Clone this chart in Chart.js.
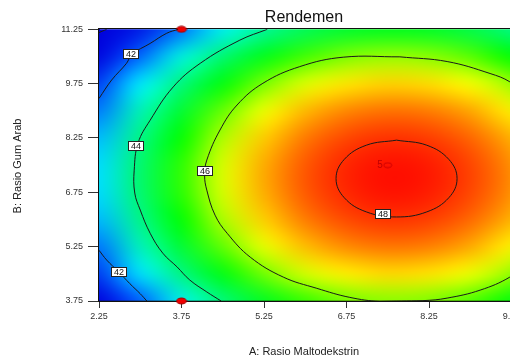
<!DOCTYPE html>
<html>
<head>
<meta charset="utf-8">
<title>Rendemen</title>
<script src="https://cdn.jsdelivr.net/npm/chart.js@4.4.0/dist/chart.umd.min.js"></script>
<style>
  html, body { margin: 0; padding: 0; background: #fff; overflow: hidden; }
  #wrap { width: 510px; height: 359px; overflow: hidden; }
  canvas { display: block; }
</style>
</head>
<body>
<div id="wrap"><canvas id="contourChart" width="700" height="359"></canvas></div>
<script>
// Factor levels of the response grid
const gridA = [2.25, 3.0, 3.75, 4.5, 5.25, 6.0, 6.75, 7.5, 8.25, 9.0, 9.75, 10.5];
const gridB = [3.75, 4.5, 5.25, 6.0, 6.75, 7.5, 8.25, 9.0, 9.75, 10.5, 11.25];

// Rendemen, one row per B level (bottom row first)
const rendemen = [
  [40.63, 42.02, 43.19, 44.16, 44.92, 45.48, 45.82, 45.96, 45.89, 45.61, 45.12, 44.43],
  [41.52, 42.91, 44.08, 45.05, 45.81, 46.37, 46.71, 46.85, 46.78, 46.50, 46.01, 45.32],
  [42.19, 43.58, 44.75, 45.72, 46.48, 47.04, 47.38, 47.52, 47.45, 47.17, 46.68, 45.99],
  [42.63, 44.02, 45.19, 46.16, 46.92, 47.48, 47.82, 47.96, 47.89, 47.61, 47.12, 46.43],
  [42.86, 44.25, 45.42, 46.39, 47.15, 47.71, 48.05, 48.19, 48.12, 47.84, 47.35, 46.66],
  [42.87, 44.26, 45.43, 46.40, 47.16, 47.72, 48.06, 48.20, 48.13, 47.85, 47.36, 46.67],
  [42.65, 44.04, 45.21, 46.18, 46.94, 47.50, 47.84, 47.98, 47.91, 47.63, 47.14, 46.45],
  [42.22, 43.61, 44.78, 45.75, 46.51, 47.07, 47.41, 47.55, 47.48, 47.20, 46.71, 46.02],
  [41.57, 42.96, 44.13, 45.10, 45.86, 46.42, 46.76, 46.90, 46.83, 46.55, 46.06, 45.37],
  [40.70, 42.09, 43.26, 44.23, 44.99, 45.55, 45.89, 46.03, 45.96, 45.68, 45.19, 44.50],
  [39.61, 41.00, 42.17, 43.14, 43.90, 44.46, 44.80, 44.94, 44.87, 44.59, 44.10, 43.41]
];

const xTicks = [2.25, 3.75, 5.25, 6.75, 8.25, 9.75, 11.25, 12.75];
const yTicks = [3.75, 5.25, 6.75, 8.25, 9.75, 11.25];

// Contour lines
const c40A = [2.25, 2.39];
const c40B = [11.16, 11.25];
const c42TopA = [2.25, 2.48, 2.75, 2.85, 3.18, 3.48, 3.69];
const c42TopB = [9.34, 9.85, 10.31, 10.56, 10.86, 11.14, 11.25];
const c42BotA = [2.25, 2.39, 2.61, 2.81, 3.00, 3.12];
const c42BotB = [5.15, 4.88, 4.55, 4.23, 3.95, 3.75];
const c44A = [5.31, 4.81, 4.09, 3.60, 3.18, 2.96, 2.89, 2.90, 3.00, 3.18, 3.41, 3.67, 3.90, 4.21, 4.47];
const c44B = [11.25, 10.95, 10.31, 9.66, 8.74, 8.11, 7.36, 6.73, 6.26, 5.62, 5.07, 4.69, 4.33, 4.00, 3.75];
const c46A = [7.72, 6.69, 5.90, 5.23, 4.76, 4.45, 4.21, 4.17, 4.21, 4.36, 4.58, 5.00, 5.60, 6.21, 6.81, 7.36, 8.14, 8.58, 9.18, 9.72, 10.40, 10.90, 11.05, 10.90, 10.40, 9.72, 9.36, 8.58, 7.72];
const c46B = [10.49, 10.48, 10.22, 9.76, 9.16, 8.47, 7.64, 7.22, 6.81, 6.12, 5.62, 4.96, 4.41, 4.10, 3.85, 3.74, 3.76, 3.83, 4.05, 4.41, 5.13, 6.11, 7.10, 8.09, 9.07, 9.80, 10.03, 10.36, 10.49];
const c48A = [7.66, 7.11, 6.71, 6.56, 6.71, 7.11, 7.66, 8.21, 8.61, 8.76, 8.61, 8.21, 7.66];
const c48B = [8.19, 8.05, 7.66, 7.13, 6.60, 6.21, 6.07, 6.21, 6.60, 7.13, 7.66, 8.05, 8.19];

// Contour level labels
const labelLevels = [42, 44, 46, 48, 42];
const labelA = [2.83, 2.92, 4.17, 7.41, 2.62];
const labelB = [10.56, 8.04, 7.35, 6.15, 4.55];

// Design points
const designA = [3.75, 3.75];
const designB = [11.25, 3.75];
const centerA = [7.5];
const centerB = [7.5];
const centerReps = [5];

const FONT = '"Liberation Sans", Arial, sans-serif';

// value -> colour ramp (blue, cyan, green, yellow, red)
const colorStops = [
  [40.6, 0, 0, 220],
  [42.0, 0, 90, 255],
  [43.0, 0, 240, 255],
  [45.2, 0, 255, 0],
  [46.6, 255, 255, 0],
  [48.3, 255, 0, 0]
];

function colorFor(v) {
  if (v <= colorStops[0][0]) return colorStops[0].slice(1);
  for (let i = 1; i < colorStops.length; i++) {
    const [v1, r1, g1, b1] = colorStops[i];
    if (v <= v1) {
      const [v0, r0, g0, b0] = colorStops[i - 1];
      const t = (v - v0) / (v1 - v0);
      return [r0 + (r1 - r0) * t, g0 + (g1 - g0) * t, b0 + (b1 - b0) * t];
    }
  }
  return colorStops[colorStops.length - 1].slice(1);
}

function toPoints(a, b) {
  return a.map((v, i) => ({ x: v, y: b[i] }));
}

// Small marker images
function makeMarker(w, h, fill, stroke) {
  const c = document.createElement('canvas');
  c.width = w; c.height = h;
  const g = c.getContext('2d');
  g.beginPath();
  g.ellipse(w / 2, h / 2, w / 2 - 1, h / 2 - 1, 0, 0, Math.PI * 2);
  if (fill) { g.fillStyle = fill; g.fill(); }
  g.lineWidth = 1;
  g.strokeStyle = stroke;
  g.stroke();
  return c;
}
const designMarker = makeMarker(12, 8, '#f00000', '#a00000');
const centerMarker = makeMarker(10, 7, null, '#d00000');

// Colour field under the contour lines
const heatmapPlugin = {
  id: 'heatmap',
  beforeDatasetsDraw(chart) {
    const { ctx, chartArea, scales: { x, y } } = chart;
    const cols = gridA.length, rows = gridB.length;
    const off = document.createElement('canvas');
    off.width = cols; off.height = rows;
    const octx = off.getContext('2d');
    const img = octx.createImageData(cols, rows);
    for (let r = 0; r < rows; r++) {
      const row = rendemen[rows - 1 - r];
      for (let c = 0; c < cols; c++) {
        const rgb = colorFor(row[c]);
        const i = (r * cols + c) * 4;
        img.data[i] = rgb[0];
        img.data[i + 1] = rgb[1];
        img.data[i + 2] = rgb[2];
        img.data[i + 3] = 255;
      }
    }
    octx.putImageData(img, 0, 0);

    const left = x.getPixelForValue(gridA[0]);
    const right = x.getPixelForValue(gridA[cols - 1]);
    const top = y.getPixelForValue(gridB[rows - 1]);
    const bottom = y.getPixelForValue(gridB[0]);

    ctx.save();
    ctx.beginPath();
    ctx.rect(chartArea.left, chartArea.top, chartArea.width, chartArea.height);
    ctx.clip();
    ctx.imageSmoothingEnabled = true;
    ctx.imageSmoothingQuality = 'high';
    ctx.drawImage(off, 0.5, 0.5, cols - 1, rows - 1, left, top, right - left, bottom - top);
    ctx.restore();

    // frame
    ctx.save();
    ctx.strokeStyle = '#111';
    ctx.lineWidth = 1;
    ctx.strokeRect(Math.round(chartArea.left) - 0.5, Math.round(chartArea.top) - 0.5,
      chartArea.width + 1, chartArea.height + 1);
    ctx.restore();
  }
};

// Contour labels, replicate count and titles
const annotatePlugin = {
  id: 'annotate',
  afterDatasetsDraw(chart) {
    const { ctx, scales: { x, y } } = chart;
    ctx.save();
    ctx.font = '9px ' + FONT;
    ctx.textAlign = 'center';
    ctx.textBaseline = 'middle';
    labelLevels.forEach((lv, i) => {
      const px = Math.round(x.getPixelForValue(labelA[i]));
      const py = Math.round(y.getPixelForValue(labelB[i]));
      const txt = String(lv);
      const w = Math.ceil(ctx.measureText(txt).width) + 5;
      const h = 10;
      ctx.fillStyle = '#fff';
      ctx.fillRect(px - w / 2, py - h / 2, w, h);
      ctx.strokeStyle = '#222';
      ctx.lineWidth = 1;
      ctx.strokeRect(px - w / 2 + 0.5, py - h / 2 + 0.5, w - 1, h - 1);
      ctx.fillStyle = '#111';
      ctx.fillText(txt, px, py + 0.5);
    });

    // replicate count next to the centre point
    ctx.fillStyle = '#c00000';
    ctx.font = '10px ' + FONT;
    ctx.textAlign = 'right';
    centerReps.forEach((n, i) => {
      ctx.fillText(String(n), x.getPixelForValue(centerA[i]) - 5, y.getPixelForValue(centerB[i]));
    });

    // titles
    ctx.fillStyle = '#111';
    ctx.textAlign = 'center';
    ctx.font = '16px ' + FONT;
    ctx.fillText('Rendemen', 304, 18);
    ctx.fillStyle = '#222';
    ctx.font = '11px ' + FONT;
    ctx.fillText('A: Rasio Maltodekstrin', 304, 352);
    ctx.translate(18, 166);
    ctx.rotate(-Math.PI / 2);
    ctx.fillText('B: Rasio Gum Arab', 0, 0);
    ctx.restore();
  }
};

function contourSet(a, b) {
  return {
    data: toPoints(a, b),
    showLine: true,
    tension: 0.4,
    borderColor: '#1a1a1a',
    borderWidth: 1,
    pointRadius: 0,
    fill: false
  };
}

const ctx = document.getElementById('contourChart');
new Chart(ctx, {
  type: 'scatter',
  data: {
    datasets: [
      contourSet(c40A, c40B),
      contourSet(c42TopA, c42TopB),
      contourSet(c42BotA, c42BotB),
      contourSet(c44A, c44B),
      contourSet(c46A, c46B),
      contourSet(c48A, c48B),
      {
        data: toPoints(designA, designB),
        pointStyle: designMarker,
        pointRadius: 6,
        clip: false
      },
      {
        data: toPoints(centerA, centerB),
        pointStyle: centerMarker,
        pointRadius: 5,
        clip: false
      }
    ]
  },
  options: {
    responsive: false,
    animation: false,
    events: [],
    layout: { padding: { left: 0, right: 23.5, top: 29.3, bottom: 0 } },
    plugins: {
      legend: { display: false },
      tooltip: { enabled: false },
      title: { display: false }
    },
    scales: {
      x: {
        type: 'linear',
        min: 2.25,
        max: 12.75,
        afterBuildTicks: s => { s.ticks = xTicks.map(v => ({ value: v })); },
        afterFit: s => { s.height = 58; },
        grid: { drawOnChartArea: false, tickLength: 7, color: '#333' },
        border: { display: true, color: '#111' },
        ticks: {
          padding: 3,
          color: '#333',
          font: { family: FONT, size: 9 },
          maxRotation: 0,
          autoSkip: false,
          callback: v => Number(v).toFixed(2)
        }
      },
      y: {
        type: 'linear',
        min: 3.75,
        max: 11.25,
        afterBuildTicks: s => { s.ticks = yTicks.map(v => ({ value: v })); },
        afterFit: s => { s.width = 99; },
        grid: { drawOnChartArea: false, tickLength: 11, color: '#333' },
        border: { display: true, color: '#111' },
        ticks: {
          padding: 5,
          color: '#333',
          font: { family: FONT, size: 9 },
          autoSkip: false,
          callback: v => Number(v).toFixed(2)
        }
      }
    }
  },
  plugins: [heatmapPlugin, annotatePlugin]
});
</script>
</body>
</html>
